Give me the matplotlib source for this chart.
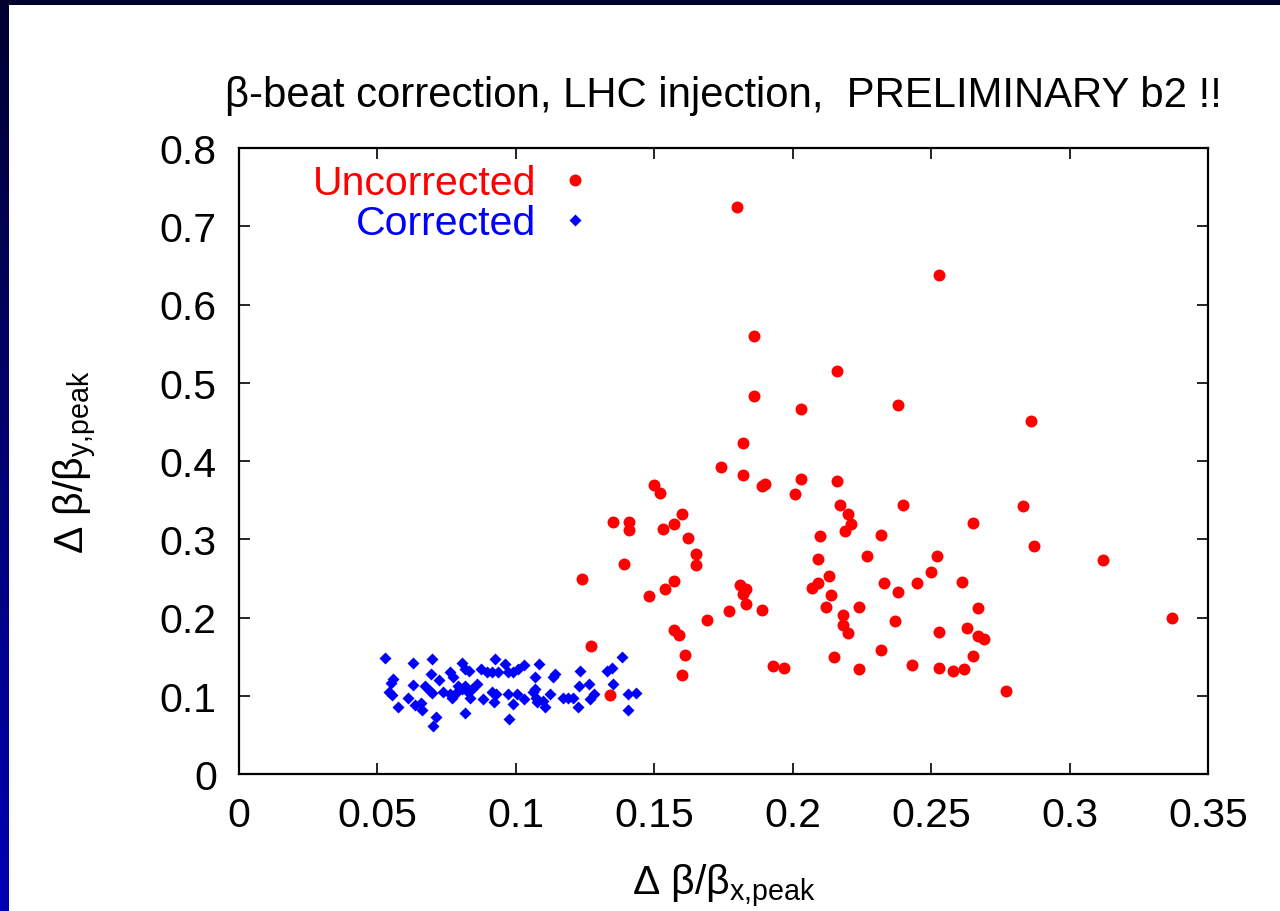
import numpy as np
import matplotlib.pyplot as plt

# red: beta-beat before correction
uncorr_x = [0.180, 0.253, 0.186, 0.216, 0.186, 0.203, 0.238, 0.286, 0.182, 0.174,
            0.182, 0.203, 0.189, 0.190, 0.201, 0.150, 0.152, 0.160, 0.157, 0.135,
            0.141, 0.141, 0.153, 0.162, 0.165, 0.165, 0.139, 0.124, 0.157, 0.154,
            0.148, 0.181, 0.183, 0.182, 0.183, 0.177, 0.189, 0.169, 0.157, 0.159,
            0.161, 0.160, 0.193, 0.197, 0.127, 0.134, 0.210, 0.209, 0.207, 0.209,
            0.216, 0.217, 0.220, 0.221, 0.219, 0.240, 0.283, 0.265, 0.287, 0.232,
            0.227, 0.252, 0.250, 0.213, 0.233, 0.238, 0.245, 0.261, 0.214, 0.212,
            0.224, 0.267, 0.218, 0.218, 0.220, 0.237, 0.253, 0.263, 0.267, 0.269,
            0.215, 0.232, 0.265, 0.224, 0.243, 0.253, 0.258, 0.262, 0.277, 0.312,
            0.337]
uncorr_y = [0.724, 0.638, 0.560, 0.515, 0.483, 0.467, 0.471, 0.451, 0.423, 0.392,
            0.382, 0.377, 0.368, 0.371, 0.358, 0.369, 0.359, 0.332, 0.319, 0.322,
            0.322, 0.312, 0.313, 0.301, 0.281, 0.267, 0.268, 0.249, 0.247, 0.236,
            0.228, 0.242, 0.236, 0.230, 0.217, 0.208, 0.209, 0.197, 0.184, 0.177,
            0.152, 0.126, 0.138, 0.135, 0.163, 0.101, 0.304, 0.275, 0.238, 0.244,
            0.375, 0.344, 0.332, 0.320, 0.311, 0.344, 0.342, 0.321, 0.291, 0.306,
            0.279, 0.278, 0.258, 0.253, 0.244, 0.232, 0.244, 0.245, 0.229, 0.214,
            0.214, 0.212, 0.203, 0.191, 0.180, 0.196, 0.181, 0.187, 0.176, 0.173,
            0.150, 0.159, 0.151, 0.134, 0.139, 0.136, 0.132, 0.134, 0.106, 0.273,
            0.200]

# blue: after correction
corr_x = [0.0527, 0.0627, 0.0698, 0.0557, 0.0548, 0.0543, 0.0551, 0.0574, 0.0609, 0.0630,
          0.0637, 0.0656, 0.0662, 0.0672, 0.0690, 0.0696, 0.0693, 0.0722, 0.0710, 0.0700,
          0.0762, 0.0774, 0.0804, 0.0816, 0.0830, 0.0738, 0.0762, 0.0786, 0.0804, 0.0828,
          0.0840, 0.0859, 0.0792, 0.0816, 0.0768, 0.0834, 0.0817, 0.0873, 0.0895, 0.0913,
          0.0923, 0.0937, 0.0961, 0.0970, 0.0991, 0.1009, 0.1029, 0.0882, 0.0913, 0.0930,
          0.0921, 0.0970, 0.1003, 0.0991, 0.0976, 0.1030, 0.1085, 0.1069, 0.1069, 0.1063,
          0.1072, 0.1075, 0.1099, 0.1105, 0.1141, 0.1133, 0.1125, 0.1171, 0.1189, 0.1207,
          0.1223, 0.1232, 0.1229, 0.1264, 0.1268, 0.1282, 0.1328, 0.1346, 0.1352, 0.1382,
          0.1406, 0.1434, 0.1406]
corr_y = [0.1485, 0.1418, 0.1473, 0.1213, 0.1162, 0.1043, 0.1009, 0.0852, 0.0970, 0.1140,
          0.0885, 0.0903, 0.0817, 0.1128, 0.1064, 0.1034, 0.1277, 0.1200, 0.0724, 0.0617,
          0.1298, 0.1243, 0.1418, 0.1341, 0.1315, 0.1043, 0.1022, 0.1043, 0.1086, 0.1043,
          0.1086, 0.1149, 0.1128, 0.1128, 0.0977, 0.0977, 0.0779, 0.1341, 0.1298, 0.1298,
          0.1469, 0.1298, 0.1405, 0.1298, 0.1298, 0.1341, 0.1392, 0.0964, 0.1043, 0.1022,
          0.0916, 0.1022, 0.1022, 0.0894, 0.0702, 0.0958, 0.1405, 0.1235, 0.1086, 0.1043,
          0.0966, 0.0916, 0.0936, 0.0852, 0.1277, 0.1235, 0.1022, 0.0977, 0.0977, 0.0977,
          0.0852, 0.1320, 0.1128, 0.1149, 0.0958, 0.1022, 0.1320, 0.1360, 0.1149, 0.1490,
          0.1022, 0.1030, 0.0821]

x_ticks = [0, 0.05, 0.1, 0.15, 0.2, 0.25, 0.3, 0.35]
y_ticks = [0, 0.1, 0.2, 0.3, 0.4, 0.5, 0.6, 0.7, 0.8]

plt.rcParams['font.family'] = ['Liberation Sans', 'DejaVu Sans']
plt.rcParams['mathtext.fontset'] = 'custom'
plt.rcParams['mathtext.rm'] = 'Liberation Sans'
plt.rcParams['mathtext.it'] = 'Liberation Sans'

fs = 29.5

fig = plt.figure(figsize=(12.8, 9.12), dpi=100)
fig.patch.set_facecolor('white')

# slide frame: dark top bar and blue gradient bar on the left
top = fig.add_axes([0, 1 - 6 / 912, 1, 6 / 912])
top.set_axis_off()
top.add_patch(plt.Rectangle((0, 0), 1, 1, color='#000030', transform=top.transAxes))
side = fig.add_axes([0, 0, 9 / 1280, 1])
grad = np.linspace(0, 1, 256).reshape(-1, 1)
side.imshow(grad, aspect='auto', cmap=plt.matplotlib.colors.LinearSegmentedColormap.from_list(
    'frame', ['#000030', '#0000b4']), extent=[0, 1, 0, 1])
side.set_axis_off()

ax = fig.add_axes([239 / 1280, 1 - 775 / 912, (1208 - 239) / 1280, (775 - 149) / 912])
ax.plot(uncorr_x, uncorr_y, 'o', color='#ff0000', ms=8.6, mec='none', label='Uncorrected')
ax.plot(corr_x, corr_y, 'D', color='#0000ff', ms=5.8, mec='none', label='Corrected')

ax.set_xlim(0, 0.35)
ax.set_ylim(0, 0.8)
ax.set_xticks(x_ticks)
ax.set_yticks(y_ticks)
ax.set_xticklabels([f'{v:g}' for v in x_ticks])
ax.set_yticklabels([f'{v:g}' for v in y_ticks])
ax.tick_params(direction='in', length=8, width=1.2, top=True, right=True,
               labelsize=fs, pad=16)
for s in ax.spines.values():
    s.set_linewidth(1.6)

ax.set_xlabel(r'$\Delta\ \beta/\beta_{\mathregular{x{,}peak}}$', fontsize=fs, labelpad=20)
ax.set_ylabel(r'$\Delta\ \beta/\beta_{\mathregular{y{,}peak}}$', fontsize=fs, labelpad=44)
ax.set_title('β-beat correction, LHC injection,  PRELIMINARY b2 !!', fontsize=fs + 0.7, pad=30)

leg = ax.legend(loc='upper left', bbox_to_anchor=(0.059, 1.0), frameon=False,
                markerfirst=False, labelcolor='linecolor', fontsize=fs,
                handlelength=0.8, handletextpad=0.55, labelspacing=0.05,
                borderaxespad=0.0)

fig.savefig('out.png', dpi=100)
